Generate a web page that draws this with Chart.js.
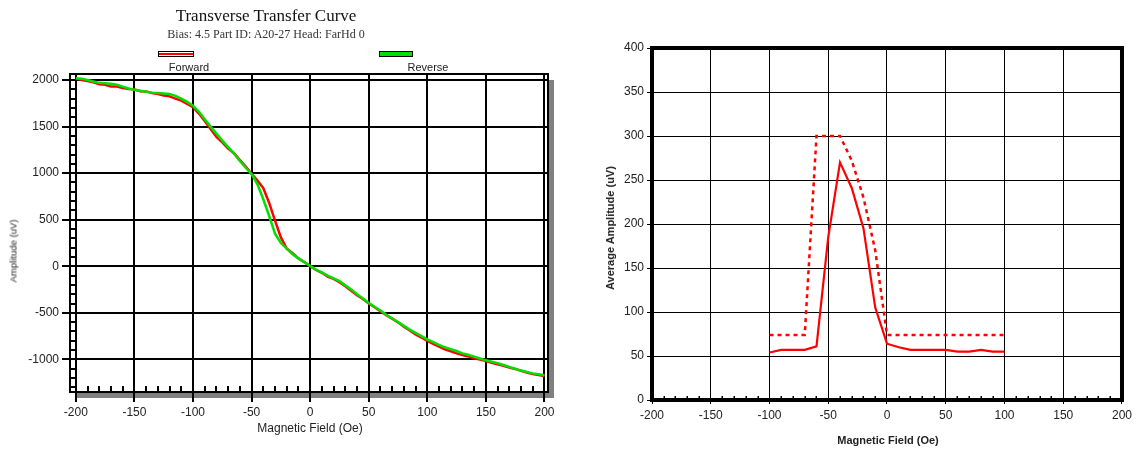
<!DOCTYPE html>
<html>
<head>
<meta charset="utf-8">
<script src="https://cdn.jsdelivr.net/npm/chart.js@4/dist/chart.umd.min.js"></script>
<style>
  body { margin: 0; background: #fff; width: 1136px; height: 449px; overflow: hidden; position: relative; font-family: "Liberation Sans", Arial, sans-serif; color: #222; }
  .box { position: absolute; top: 0; height: 449px; width: 568px; }
  .txt { position: absolute; white-space: nowrap; transform: translate(-50%, -50%); }
  .rot { transform: translate(-50%, -50%) rotate(-90deg); }
  .sw { position: absolute; box-sizing: border-box; border: 1.5px solid #000; }
</style>
</head>
<body>
<div class="box" style="left:0"><canvas id="transfer" width="568" height="449"></canvas></div>
<div class="box" style="left:568px"><canvas id="average" width="568" height="449"></canvas></div>

<div class="txt" style="left:266px;top:16px;font:17px 'Liberation Serif',serif;color:#111">Transverse Transfer Curve</div>
<div class="txt" style="left:266px;top:34px;font:12px 'Liberation Serif',serif;color:#333">Bias: 4.5 Part ID: A20-27 Head: FarHd 0</div>
<div class="sw" style="left:158px;top:51px;width:36px;height:6px;background:linear-gradient(#fff 0,#fff 25%,#f00 25%,#f00 75%,#fff 75%)"></div>
<div class="sw" style="left:379px;top:51px;width:34px;height:6px;background:#00e000"></div>
<div class="txt" style="left:189px;top:67px;font:11px 'Liberation Sans',Arial">Forward</div>
<div class="txt" style="left:428px;top:67px;font:11px 'Liberation Sans',Arial">Reverse</div>
<div class="txt rot" style="left:13px;top:251px;font:9.5px 'Liberation Sans',Arial">Amplitude (uV)</div>
<div class="txt" style="left:310px;top:428px;font:12px 'Liberation Sans',Arial">Magnetic Field (Oe)</div>

<div class="txt rot" style="left:610px;top:228px;font:bold 11px 'Liberation Sans',Arial">Average Amplitude (uV)</div>
<div class="txt" style="left:888px;top:440px;font:bold 11px 'Liberation Sans',Arial">Magnetic Field (Oe)</div>

<script>
// left chart: transfer curve
const fieldX = [-200,-195,-190,-185,-180,-175,-170,-165,-160,-155,-150,-145,-140,-135,-130,-125,-120,-115,-110,-105,
  -100,-95,-90,-85,-80,-75,-70,-65,-60,-55,-50,-45,-40,-35,-30,-25,-20,-15,-10,-5,
  0,5,10,15,20,25,30,35,40,45,50,55,60,65,70,75,80,85,90,95,
  100,105,110,115,120,125,130,135,140,145,150,155,160,165,170,175,180,185,190,195,200];
const forwardAmp = [2015,2000,1990,1975,1955,1950,1930,1930,1915,1905,1900,1880,1878,1860,1850,1835,1825,1800,1780,1745,
  1710,1640,1560,1475,1390,1330,1265,1215,1140,1070,993,920,840,680,490,310,190,140,85,45,
  0,-40,-70,-110,-135,-170,-215,-262,-310,-352,-400,-440,-482,-525,-562,-602,-650,-690,-732,-765,
  -800,-832,-862,-893,-912,-935,-952,-968,-988,-1002,-1017,-1037,-1052,-1068,-1088,-1102,-1122,-1140,-1158,-1168,-1178];
const reverseAmp = [2020,2015,2000,1985,1970,1965,1960,1950,1930,1910,1895,1885,1875,1865,1860,1855,1850,1830,1800,1765,
  1725,1660,1580,1500,1425,1350,1280,1210,1130,1060,990,880,720,540,350,250,190,130,85,45,
  5,-35,-65,-100,-130,-160,-205,-250,-300,-345,-395,-435,-475,-520,-560,-600,-640,-680,-715,-750,
  -785,-815,-845,-870,-890,-910,-935,-950,-970,-990,-1010,-1025,-1040,-1060,-1080,-1100,-1120,-1135,-1150,-1160,-1170];
const transferXTicks = [-200,-150,-100,-50,0,50,100,150,200];
const transferYTicks = [-1000,-500,0,500,1000,1500,2000];

// right chart: average amplitude
const avgX = [-100,-90,-80,-70,-60,-50,-40,-30,-20,-10,0,10,20,30,40,50,60,70,80,90,100];
const avgSolid = [54,57,57,57,61,185,270,241,195,105,64,60,57,57,57,57,55,55,57,55,55];
const avgDashed = [74,74,74,74,300,300,300,272,230,170,74,74,74,74,74,74,74,74,74,74,74];
const avgXTicks = [-200,-150,-100,-50,0,50,100,150,200];
const avgYTicks = [0,50,100,150,200,250,300,350,400];

const font12 = { family: "'Liberation Sans', Arial, sans-serif", size: 12 };
const pts = (xs, ys) => xs.map((x, i) => ({ x: x, y: ys[i] }));
const setTicks = list => s => { s.ticks = list.map(v => ({ value: v })); };
const plain = v => String(v);

const transferFrame = {
  id: 'transferFrame',
  beforeDraw(chart) {
    const { ctx, chartArea: a } = chart;
    ctx.save();
    ctx.fillStyle = '#808080';
    ctx.fillRect(a.right, a.top + 6, 6, a.bottom - a.top);
    ctx.fillRect(a.left + 6, a.bottom, a.right - a.left, 6);
    ctx.restore();
  },
  afterDraw(chart) {
    const { ctx, chartArea: a, scales } = chart;
    ctx.save();
    ctx.strokeStyle = '#000';
    ctx.lineWidth = 2;
    ctx.strokeRect(a.left, a.top, a.right - a.left, a.bottom - a.top);
    ctx.beginPath();
    for (let v = -1300; v <= 2000; v += 100) {
      if (v % 500 === 0) continue;
      const y = Math.round(scales.y.getPixelForValue(v));
      ctx.moveTo(a.left, y); ctx.lineTo(a.left + 6, y);
    }
    for (let v = -200; v <= 200; v += 10) {
      if (v % 50 === 0) continue;
      const x = Math.round(scales.x.getPixelForValue(v));
      ctx.moveTo(x, a.bottom); ctx.lineTo(x, a.bottom - 6);
    }
    ctx.stroke();
    ctx.restore();
  }
};

new Chart(document.getElementById('transfer'), {
  type: 'line',
  data: {
    datasets: [{
      label: 'Forward',
      data: pts(fieldX, forwardAmp),
      borderColor: '#ff0000',
      borderWidth: 2.5,
      pointRadius: 0,
      order: 1
    }, {
      label: 'Reverse',
      data: pts(fieldX, reverseAmp),
      borderColor: '#00e000',
      borderWidth: 2.5,
      pointRadius: 0,
      order: 0
    }]
  },
  options: {
    responsive: false,
    animation: false,
    layout: { padding: { top: 74, right: 20, left: 0, bottom: 0 } },
    plugins: { legend: { display: false }, tooltip: { enabled: false } },
    scales: {
      x: {
        type: 'linear', min: -205, max: 203,
        afterBuildTicks: setTicks(transferXTicks),
        afterFit: s => { s.height = 57; },
        grid: { color: '#000', lineWidth: 2, tickLength: 10, tickColor: '#000' },
        border: { display: false },
        ticks: { font: font12, color: '#222', padding: 3, maxRotation: 0, autoSkip: false, callback: plain }
      },
      y: {
        type: 'linear', min: -1350, max: 2065,
        afterBuildTicks: setTicks(transferYTicks),
        afterFit: s => { s.width = 70; },
        grid: { color: '#000', lineWidth: 2, tickLength: 8, tickColor: '#000' },
        border: { display: false },
        ticks: { font: font12, color: '#222', padding: 3, autoSkip: false, callback: plain }
      }
    }
  },
  plugins: [transferFrame]
});

const averageFrame = {
  id: 'averageFrame',
  afterDraw(chart) {
    const { ctx, chartArea: a, scales } = chart;
    ctx.save();
    ctx.strokeStyle = '#000';
    ctx.lineWidth = 4;
    ctx.strokeRect(a.left, a.top, a.right - a.left, a.bottom - a.top);
    ctx.fillStyle = '#000';
    for (let v = -190; v < 200; v += 10) {
      if (v % 50 === 0) continue;
      const x = Math.round(scales.x.getPixelForValue(v));
      ctx.fillRect(x - 0.5, a.bottom - 4, 1.5, 2);
    }
    ctx.restore();
  }
};

new Chart(document.getElementById('average'), {
  type: 'line',
  data: {
    datasets: [{
      label: 'Average',
      data: pts(avgX, avgSolid),
      borderColor: '#ff0000',
      borderWidth: 2.2,
      pointRadius: 0
    }, {
      label: 'Peak',
      data: pts(avgX, avgDashed),
      borderColor: '#ff0000',
      borderWidth: 2.5,
      borderDash: [4, 4],
      pointRadius: 0
    }]
  },
  options: {
    responsive: false,
    animation: false,
    layout: { padding: { top: 48, right: 10, left: 0, bottom: 0 } },
    plugins: { legend: { display: false }, tooltip: { enabled: false } },
    scales: {
      x: {
        type: 'linear', min: -200, max: 200,
        afterBuildTicks: setTicks(avgXTicks),
        afterFit: s => { s.height = 49; },
        grid: { color: '#000', lineWidth: 1, tickLength: 4, tickColor: '#000' },
        border: { display: false },
        ticks: { font: font12, color: '#222', padding: 4, maxRotation: 0, autoSkip: false, callback: plain }
      },
      y: {
        type: 'linear', min: 0, max: 400,
        afterBuildTicks: setTicks(avgYTicks),
        afterFit: s => { s.width = 84; },
        grid: { color: '#000', lineWidth: 1, tickLength: 5, tickColor: '#000' },
        border: { display: false },
        ticks: { font: font12, color: '#222', padding: 3, autoSkip: false, callback: plain }
      }
    }
  },
  plugins: [averageFrame]
});
</script>
</body>
</html>
